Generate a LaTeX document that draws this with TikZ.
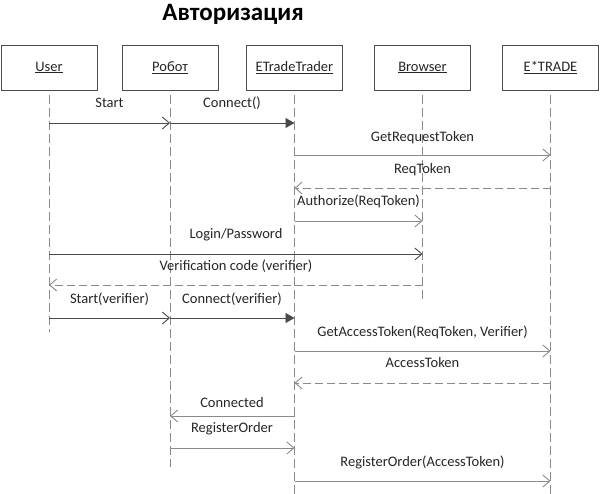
\documentclass[tikz,border=0pt]{standalone}
\usepackage{fontspec}
\setmainfont{Carlito}
\usetikzlibrary{arrows.meta}
\definecolor{dk}{HTML}{4a4a4a}
\definecolor{gr}{HTML}{8a8a8a}
\definecolor{tx}{HTML}{262626}
\begin{document}
\begin{tikzpicture}[x=1pt,y=-1pt,
  obj/.style={draw=dk, line width=0.7pt, minimum width=96pt, minimum height=45pt, inner sep=0pt,
    font=\fontsize{14.5}{16}\selectfont, text=tx},
  life/.style={draw=gr, line width=0.9pt, dash pattern=on 9pt off 4pt},
  barb/.style={-{Straight Barb[length=7pt,width=12pt,line width=0.9pt]}},
  msgd/.style={draw=dk, line width=0.9pt, barb},
  msgg/.style={draw=gr, line width=0.9pt, barb},
  ret/.style={draw=gr, line width=0.9pt, dash pattern=on 8pt off 4pt, barb},
  call/.style={draw=dk, line width=0.9pt, -{Triangle[length=9pt,width=10pt]}},
  lbl/.style={font=\fontsize{14.5}{16}\selectfont, text=tx, inner sep=0pt, text height=9pt, text depth=3pt}
]
\path[use as bounding box, fill=white] (0,0) rectangle (601,494);

\node[font=\bfseries\fontsize{25}{28}\selectfont, text=black] (title) at (233,14) {Авторизация};

\node[obj] (U) at (49,67.5) {\underline{User}};
\node[obj] (R) at (170,67.5) {\underline{Робот}};
\node[obj] (E) at (294.5,67.5) {\underline{ETradeTrader}};
\node[obj] (B) at (422.5,67.5) {\underline{Browser}};
\node[obj] (T) at (550.5,67.5) {\underline{E*TRADE}};

\coordinate (Ue) at (49,332);
\coordinate (Re) at (170,467);
\coordinate (Ee) at (294.5,494);
\coordinate (Be) at (422.5,302);
\coordinate (Te) at (550.5,494);
\draw[life] ([yshift=-5pt]U.south) -- (Ue);
\draw[life] ([yshift=-5pt]R.south) -- (Re);
\draw[life] ([yshift=-5pt]E.south) -- (Ee);
\draw[life] ([yshift=-5pt]B.south) -- (Be);
\draw[life] ([yshift=-5pt]T.south) -- (Te);

\coordinate (m1) at (0,123);
\coordinate (m3) at (0,155);
\coordinate (m4) at (0,188);
\coordinate (m5) at (0,221);
\coordinate (m6) at (0,254);
\coordinate (m7) at (0,285);
\coordinate (m8) at (0,318);
\coordinate (m10) at (0,351);
\coordinate (m11) at (0,383);
\coordinate (m12) at (0,416);
\coordinate (m13) at (0,448);
\coordinate (m14) at (0,481);

\draw[msgd] (U |- m1) -- (R |- m1);
\draw[call] (R |- m1) -- (E |- m1);
\draw[msgg] (E |- m3) -- (T |- m3);
\draw[ret] (T |- m4) -- (E |- m4);
\draw[msgg] (E |- m5) -- (B |- m5);
\draw[msgd] (U |- m6) -- (B |- m6);
\draw[ret] (B |- m7) -- (U |- m7);
\draw[msgd] (U |- m8) -- (R |- m8);
\draw[call] (R |- m8) -- (E |- m8);
\draw[msgg] (E |- m10) -- (T |- m10);
\draw[ret] (T |- m11) -- (E |- m11);
\draw[msgg] (E |- m12) -- (R |- m12);
\draw[msgg] (R |- m13) -- (E |- m13);
\draw[msgg] (E |- m14) -- (T |- m14);

\node[lbl] (l1) at (109.5,104.5) {Start};
\node[lbl] (l2) at (232,104.5) {Connect()};
\node[lbl] (l3) at (422.5,138.5) {GetRequestToken};
\node[lbl] (l4) at (422.5,170.5) {ReqToken};
\node[lbl] (l5) at (358.5,202.5) {Authorize(ReqToken)};
\node[lbl] (l6) at (236,235.5) {Login/Password};
\node[lbl] (l7) at (236,267.5) {Verification code (verifier)};
\node[lbl] (l8) at (109.5,300.5) {Start(verifier)};
\node[lbl] (l9) at (232,300.5) {Connect(verifier)};
\node[lbl] (l10) at (422.5,333.5) {GetAccessToken(ReqToken, Verifier)};
\node[lbl] (l11) at (422.5,364.5) {AccessToken};
\node[lbl] (l12) at (232,404.5) {Connected};
\node[lbl] (l13) at (232,429.5) {RegisterOrder};
\node[lbl] (l14) at (422.5,463.5) {RegisterOrder(AccessToken)};
\end{tikzpicture}
\end{document}
